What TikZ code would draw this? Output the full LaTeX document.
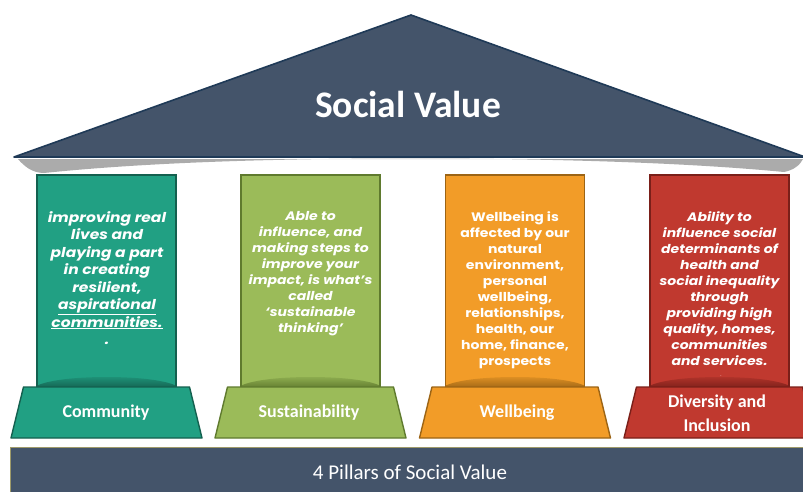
\documentclass[tikz,border=0pt]{standalone}
\usepackage{fontspec}
\setmainfont{Carlito}
\newfontfamily\pillarfont[FakeStretch=1.14]{Poppins}
\definecolor{slate}{HTML}{44546A}
\definecolor{slateedge}{HTML}{1F3A57}
\definecolor{tealfill}{HTML}{21A083}
\definecolor{tealedge}{HTML}{14604F}
\definecolor{greenfill}{HTML}{9BBB59}
\definecolor{greenedge}{HTML}{5F7A2E}
\definecolor{orangefill}{HTML}{F29C28}
\definecolor{orangeedge}{HTML}{9C6415}
\definecolor{redfill}{HTML}{C0392F}
\definecolor{rededge}{HTML}{7A1F19}

% one pillar: shaft with a dark dome at its foot, plus its trapezoid base
% #1 centre x, #2 fill colour, #3 edge colour
\newcommand\drawpillar[3]{%
  \begin{scope}
    \clip (#1-69.5,175) rectangle (#1+69.5,388);
    \fill[#2] (#1-69.5,175) rectangle (#1+69.5,388);
    \shade[top color=#2, bottom color=#3]
      (#1-74,389) .. controls (#1-62,373) and (#1+62,373) .. (#1+74,389) -- cycle;
  \end{scope}
  \draw[#3, line width=1.4pt] (#1-69.5,175) rectangle (#1+69.5,388);
  \draw[fill=#2, draw=#3, line width=1.4pt, line join=round]
    (#1-83,387) -- (#1+83,387) -- (#1+95.5,438) -- (#1-95.5,438) -- cycle;
}

\tikzset{
  coltext/.style={text=white, align=center, anchor=north, inner sep=0pt},
  baselabel/.style={text=white, align=center, font=\bfseries\fontsize{18}{24}\selectfont},
}

\begin{document}
\begin{tikzpicture}[x=1pt,y=-1pt]
\useasboundingbox (0,0) rectangle (803,492);
\fill[white] (0,0) rectangle (803,492);

% shadow under the eaves
\fill[black!60, opacity=0.55]
  (18,159) .. controls (24,166) and (32,173) .. (44,173)
  .. controls (160,161) and (300,158.5) .. (410,158.5)
  .. controls (520,158.5) and (670,161) .. (784,172)
  .. controls (794,170) and (800,165) .. (803,159) -- cycle;

% roof
\draw[fill=slate, draw=slateedge, line width=1.6pt, line join=round]
  (14,157) -- (411,15) -- (805,157) -- cycle;
\node[text=white, font=\bfseries\fontsize{37.5}{40}\selectfont] (title) at (408,104) {Social Value};

% pillars
\drawpillar{106.5}{tealfill}{tealedge}
\drawpillar{310.5}{greenfill}{greenedge}
\drawpillar{515}{orangefill}{orangeedge}
\drawpillar{719.5}{redfill}{rededge}

\node[coltext, font=\pillarfont\bfseries\itshape\fontsize{13.6}{17.5}\selectfont] (tcom) at (107,211)
  {improving real\\lives and\\playing a part\\in creating\\resilient,\\\underline{aspirational}\\\underline{communities.}\\.};
\node[coltext, font=\pillarfont\bfseries\itshape\fontsize{12.3}{16}\selectfont] (tsus) at (310.5,211)
  {Able to\\influence, and\\making steps to\\improve your\\impact, is what’s\\called\\‘sustainable\\thinking’};
\node[coltext, font=\pillarfont\bfseries\fontsize{12.3}{16}\selectfont] (twel) at (515,211)
  {Wellbeing is\\affected by our\\natural\\environment,\\personal\\wellbeing,\\relationships,\\health, our\\home, finance,\\prospects};
\node[coltext, font=\pillarfont\bfseries\itshape\fontsize{12.3}{16}\selectfont] (tdiv) at (719.5,211)
  {Ability to\\influence social\\determinants of\\health and\\social inequality\\through\\providing high\\quality, homes,\\communities\\and services.};
\node[text=white, font=\fontsize{5}{5}\selectfont, inner sep=0pt] (tdot) at (721,376) {.};

% base labels
\node[baselabel] (lcom) at (106,413) {Community};
\node[baselabel] (lsus) at (309,413) {Sustainability};
\node[baselabel] (lwel) at (517,413) {Wellbeing};
\node[baselabel] (ldiv) at (717,413) {Diversity and\\Inclusion};

% foundation bar
\fill[slate] (10,447) rectangle (803,492);
\draw[black!45!olive!60, line width=0.8pt] (10,492) -- (10,447) -- (803,447);
\node[text=white, font=\fontsize{21}{24}\selectfont] (foot) at (410,472) {4 Pillars of Social Value};
\end{tikzpicture}
\end{document}
